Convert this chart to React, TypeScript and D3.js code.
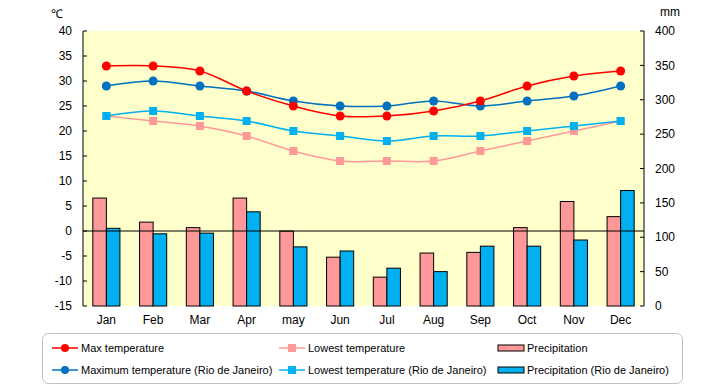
import React from "react";
import * as d3 from "d3";

const months = ["Jan", "Feb", "Mar", "Apr", "may", "Jun", "Jul", "Aug", "Sep", "Oct", "Nov", "Dec"];

const maxTemp = [33, 33, 32, 28, 25, 23, 23, 24, 26, 29, 31, 32];
const lowTemp = [23, 22, 21, 19, 16, 14, 14, 14, 16, 18, 20, 22];
const maxTempRio = [29, 30, 29, 28, 26, 25, 25, 26, 25, 26, 27, 29];
const lowTempRio = [23, 24, 23, 22, 20, 19, 18, 19, 19, 20, 21, 22];
const precip = [157, 122, 114, 157, 109, 71, 42, 77, 78, 114, 152, 130];
const precipRio = [113, 105, 106, 137, 86, 80, 55, 50, 87, 87, 96, 168];

const tempTicks = d3.range(-15, 41, 5);
const mmTicks = d3.range(0, 401, 50);

const W = 720;
const H = 385;
const left = 83;
const right = 644;
const top = 31;
const bottom = 306;

const font = "'Liberation Sans', Arial, sans-serif";

const App: React.FC = () => {
  const x = d3.scaleBand<string>().domain(months).range([left, right]).paddingInner(0.42).paddingOuter(0.21);
  const step = x.step();
  const yT = d3.scaleLinear().domain([-15, 40]).range([bottom, top]);
  const yP = d3.scaleLinear().domain([0, 400]).range([bottom, top]);
  const cx = (m: string) => (x(m) as number) + x.bandwidth() / 2;
  const bw = x.bandwidth() / 2;

  const line = d3
    .line<number>()
    .x((_, i) => cx(months[i]))
    .y((d) => yT(d))
    .curve(d3.curveCatmullRom.alpha(0.5));

  const series = [
    { data: lowTemp, color: "#FF9999", shape: "square" },
    { data: lowTempRio, color: "#00B0F0", shape: "square" },
    { data: maxTempRio, color: "#0070C0", shape: "circle" },
    { data: maxTemp, color: "#FF0000", shape: "circle" },
  ];

  const legend = [
    { label: "Max temperature", color: "#FF0000", kind: "circle", col: 0, row: 0 },
    { label: "Lowest temperature", color: "#FF9999", kind: "square", col: 1, row: 0 },
    { label: "Precipitation", color: "#FF9999", kind: "bar", col: 2, row: 0 },
    { label: "Maximum temperature (Rio de Janeiro)", color: "#0070C0", kind: "circle", col: 0, row: 1 },
    { label: "Lowest temperature (Rio de Janeiro)", color: "#00B0F0", kind: "square", col: 1, row: 1 },
    { label: "Precipitation (Rio de Janeiro)", color: "#00B0F0", kind: "bar", col: 2, row: 1 },
  ];
  const colX = [52, 279, 498];
  const rowY = [348, 370];

  return (
    <svg width={W} height={H} style={{ position: "absolute", left: 0, top: 0 }}>
      <rect x={0} y={0} width={W} height={H} fill="#fff" />
      <rect x={left} y={top} width={right - left} height={bottom - top} fill="#FFFFCC" />

      {/* bars */}
      {months.map((m, i) => (
        <g key={m}>
          <rect
            x={x(m) as number}
            y={yP(precip[i])}
            width={bw}
            height={bottom - yP(precip[i])}
            fill="#FF9999"
            stroke="#000"
            strokeWidth={1}
          />
          <rect
            x={(x(m) as number) + bw}
            y={yP(precipRio[i])}
            width={bw}
            height={bottom - yP(precipRio[i])}
            fill="#00B0F0"
            stroke="#000"
            strokeWidth={1}
          />
        </g>
      ))}

      {/* zero line */}
      <line x1={left} x2={right} y1={yT(0)} y2={yT(0)} stroke="#000" strokeWidth={1} />

      {/* lines */}
      {series.map((s, k) => (
        <g key={k}>
          <path d={line(s.data) || ""} fill="none" stroke={s.color} strokeWidth={1.5} />
          {s.data.map((v, i) =>
            s.shape === "circle" ? (
              <circle key={i} cx={cx(months[i])} cy={yT(v)} r={4.5} fill={s.color} />
            ) : (
              <rect key={i} x={cx(months[i]) - 4} y={yT(v) - 4} width={8} height={8} fill={s.color} />
            )
          )}
        </g>
      ))}

      {/* left axis */}
      <line x1={left} x2={left} y1={top} y2={bottom} stroke="#000" />
      {tempTicks.map((t) => (
        <g key={t}>
          <line x1={left} x2={left + 4} y1={yT(t)} y2={yT(t)} stroke="#000" />
          <text x={left - 11} y={yT(t)} dy="0.35em" textAnchor="end" fontSize={12} fontFamily={font}>
            {t}
          </text>
        </g>
      ))}
      <text x={57} y={18} textAnchor="middle" fontSize={12} fontFamily={font}>
        ℃
      </text>

      {/* right axis */}
      <line x1={right} x2={right} y1={top} y2={bottom} stroke="#000" />
      {mmTicks.map((t) => (
        <g key={t}>
          <line x1={right - 4} x2={right} y1={yP(t)} y2={yP(t)} stroke="#000" />
          <text x={655} y={yP(t)} dy="0.35em" textAnchor="start" fontSize={12} fontFamily={font}>
            {t}
          </text>
        </g>
      ))}
      <text x={670} y={16} textAnchor="middle" fontSize={12} fontFamily={font}>
        mm
      </text>

      {/* x labels */}
      {months.map((m) => (
        <text key={m} x={cx(m)} y={320} dy="0.35em" textAnchor="middle" fontSize={12} fontFamily={font}>
          {m}
        </text>
      ))}

      {/* legend */}
      <rect x={42.5} y={333.5} width={640} height={50} rx={6} fill="#fff" stroke="#BFBFBF" />
      {legend.map((l, i) => {
        const lx = colX[l.col];
        const ly = rowY[l.row];
        return (
          <g key={i}>
            {l.kind === "bar" ? (
              <rect x={lx} y={ly - 3} width={26} height={6} fill={l.color} stroke="#000" />
            ) : (
              <>
                <line x1={lx} x2={lx + 26} y1={ly} y2={ly} stroke={l.color} strokeWidth={1.5} />
                {l.kind === "circle" ? (
                  <circle cx={lx + 13} cy={ly} r={4} fill={l.color} />
                ) : (
                  <rect x={lx + 9} y={ly - 4} width={8} height={8} fill={l.color} />
                )}
              </>
            )}
            <text x={lx + 29} y={ly} dy="0.35em" fontSize={11} fontFamily={font}>
              {l.label}
            </text>
          </g>
        );
      })}
    </svg>
  );
};

export default App;
